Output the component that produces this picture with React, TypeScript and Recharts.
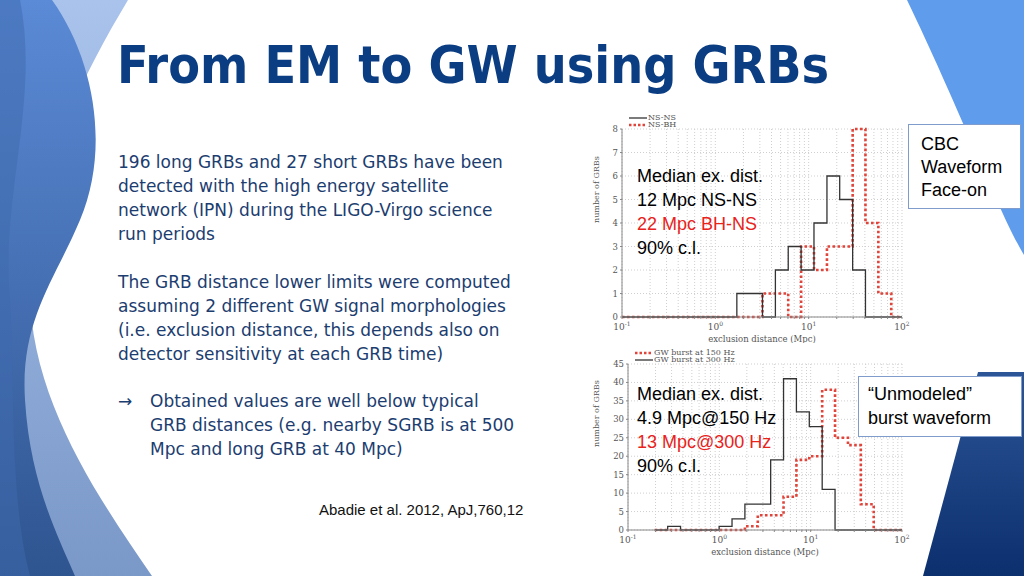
import React from "react"
import { CartesianGrid, Legend, Line, LineChart, XAxis, YAxis } from "recharts"

// CBC histogram (top): bin edges in Mpc, counts per bin
const cbcEdges = [1.7, 2.33, 3.2, 4.4, 6.04, 8.3, 11.4, 15.7, 21.5, 29.6, 40.6, 55.8, 76.7]
const nsnsCounts = [1, 1, 0, 2, 3, 2, 4, 6, 5, 2, 0, 0]
const nsbhCounts = [0, 0, 1, 1, 0, 3, 2, 3, 3, 8, 4, 1]

// burst histogram (bottom)
const burstEdges = [
  0.196, 0.272, 0.376, 0.52, 0.719, 0.995, 1.377, 1.905, 2.636, 3.648, 5.047, 6.982, 9.66, 13.37, 18.49, 25.59, 35.4,
  49.0, 67.8, 93.8,
]
const burst150Counts = [0, 0, 0, 0, 0, 0, 0, 1, 4, 4, 9, 19, 20, 38, 25, 23, 7, 0, 0]
const burst300Counts = [0, 1, 0, 0, 0, 1, 3, 7, 7, 19, 41, 32, 28, 11, 0, 0, 0, 0, 0]

const cbcYTicks = [0, 1, 2, 3, 4, 5, 6, 7, 8]
const burstYTicks = [0, 5, 10, 15, 20, 25, 30, 35, 40, 45]

const logTicks: number[] = []
for (const d of [0.1, 1, 10]) for (let m = 1; m < 10; m++) logTicks.push(+(m * d).toPrecision(3))
logTicks.push(100)

const RED = "#E0443A"
const BLACK = "#333"
const serif = "'DejaVu Serif', serif"
const bodyFont = "'DejaVu Sans', sans-serif"
const arial = "'Liberation Sans', Arial, sans-serif"

function buildRows(edges: number[], a: number[], b: number[], lead?: number) {
  const rows: { x: number; a: number; b: number }[] = []
  if (lead) rows.push({ x: lead, a: 0, b: 0 })
  a.forEach((v, i) => rows.push({ x: edges[i], a: v, b: b[i] }))
  rows.push({ x: edges[edges.length - 1], a: 0, b: 0 })
  if (edges[edges.length - 1] < 100) rows.push({ x: 100, a: 0, b: 0 })
  return rows
}

const LogTick = (props: any) => {
  const { x, y, payload } = props
  const lg = Math.log10(payload.value)
  const exp = Math.round(lg)
  if (Math.abs(lg - exp) > 1e-6) return <g />
  return (
    <text x={x} y={y + 9} textAnchor="middle" fontSize={9} fontFamily={serif} fill="#555">
      <tspan>10</tspan>
      <tspan dy={-4} fontSize={6}>
        {exp}
      </tspan>
    </text>
  )
}

const LegendBox = ({ items }: { items: { label: string; color: string; dash?: boolean }[] }) => (
  <div style={{ lineHeight: "7px" }}>
    {items.map((it) => (
      <div key={it.label} style={{ display: "flex", alignItems: "center", height: 7 }}>
        <svg width={20} height={6}>
          <line
            x1={1}
            x2={19}
            y1={3}
            y2={3}
            stroke={it.color}
            strokeWidth={it.dash ? 2.5 : 1.3}
            strokeDasharray={it.dash ? "2.5 2" : undefined}
          />
        </svg>
        <span style={{ fontFamily: serif, fontSize: 8, color: "#555" }}>{it.label}</span>
      </div>
    ))}
  </div>
)

function Histogram(props: {
  rows: any[]
  width: number
  height: number
  yWidth: number
  yTicks: number[]
  yMax: number
  aColor: string
  aDash: boolean
  bColor: string
  bDash: boolean
  legend: { label: string; color: string; dash?: boolean }[]
}) {
  const { rows, width, height, yWidth, yTicks, yMax } = props
  const style = (dash: boolean) => (dash ? { strokeWidth: 2.6, strokeDasharray: "2.6 2.4" } : { strokeWidth: 1.3 })
  return (
    <LineChart width={width} height={height} data={rows} margin={{ top: 7, right: 8, bottom: 0, left: 0 }}>
      <CartesianGrid stroke="#cfcfcf" strokeDasharray="1 2" />
      <XAxis
        dataKey="x"
        type="number"
        scale="log"
        domain={[0.1, 100]}
        ticks={logTicks}
        allowDataOverflow
        tick={<LogTick />}
        tickSize={2}
        interval={0}
        height={30}
        stroke="#888"
        label={{ value: "exclusion distance (Mpc)", position: "insideBottom", offset: 5, fontSize: 8.5, fontFamily: serif, fill: "#555" }}
      />
      <YAxis
        type="number"
        domain={[0, yMax]}
        ticks={yTicks}
        interval={0}
        width={yWidth}
        tickSize={2}
        stroke="#888"
        tick={{ fontSize: 8.5, fontFamily: serif, fill: "#555" }}
        label={{ value: "number of GRBs", angle: -90, position: "insideLeft", offset: 6, fontSize: 8, fontFamily: serif, fill: "#555" }}
      />
      <Legend
        verticalAlign="top"
        align="left"
        wrapperStyle={{ top: 6, left: yWidth + 6, width: "auto" }}
        content={() => <LegendBox items={props.legend} />}
      />
      <Line type="stepAfter" dataKey="b" stroke={props.bColor} {...style(props.bDash)} dot={false} isAnimationActive={false} />
      <Line type="stepAfter" dataKey="a" stroke={props.aColor} {...style(props.aDash)} dot={false} isAnimationActive={false} />
    </LineChart>
  )
}

const bodyLine: React.CSSProperties = { margin: 0, height: 24, lineHeight: "24px", whiteSpace: "nowrap" }

export default function App() {
  const cbcRows = buildRows(cbcEdges, nsnsCounts, nsbhCounts, 0.1)
  const burstRows = buildRows(burstEdges, burst300Counts, burst150Counts)
  return (
    <div style={{ position: "absolute", left: 0, top: 0, width: 1024, height: 576, background: "#fff", overflow: "hidden" }}>
      <svg width={1024} height={576} style={{ position: "absolute", left: 0, top: 0 }}>
        <defs>
          <linearGradient id="lightL" x1="0" y1="0" x2="0" y2="1">
            <stop offset="0" stopColor="#a9c3ec" />
            <stop offset="1" stopColor="#7a98c8" />
          </linearGradient>
          <linearGradient id="darkL" x1="0" y1="0" x2="0" y2="1">
            <stop offset="0" stopColor="#5b8ad6" />
            <stop offset="1" stopColor="#2f5590" />
          </linearGradient>
          <linearGradient id="darkR" x1="0" y1="0" x2="0" y2="1">
            <stop offset="0" stopColor="#2c5597" />
            <stop offset="1" stopColor="#0c2f6e" />
          </linearGradient>
        </defs>
        <path d="M0,0 H128 C 80,80 30,180 30,290 C 30,400 100,500 152,576 H0 Z" fill="url(#lightL)" />
        <path d="M0,0 H52 C 95,60 110,150 80,220 C 55,280 20,320 25,400 C 30,480 55,530 75,576 H0 Z" fill="url(#darkL)" />
        <path d="M0,0 H20 C 40,100 0,200 10,300 C 15,400 10,500 30,576 H0 Z" fill="#3d6aae" opacity={0.5} />
        <path d="M907,0 H1024 V255 C 1000,215 960,110 907,0 Z" fill="#5f9ceb" />
        <path d="M978,372 H1024 V576 H923 Z" fill="url(#darkR)" />
      </svg>

      <div
        style={{
          position: "absolute",
          left: 117,
          top: 35,
          fontFamily: "'DejaVu Sans Condensed', 'DejaVu Sans', sans-serif",
          fontWeight: 700,
          fontSize: 51.5,
          color: "#0b3d82",
          whiteSpace: "nowrap",
        }}
      >
        From EM to GW using GRBs
      </div>

      <div style={{ position: "absolute", left: 118, top: 150, fontFamily: bodyFont, fontSize: 17, color: "#1c3d70" }}>
        <p style={bodyLine}>196 long GRBs and 27 short GRBs have been</p>
        <p style={bodyLine}>detected with the high energy satellite</p>
        <p style={bodyLine}>network (IPN) during the LIGO-Virgo science</p>
        <p style={bodyLine}>run periods</p>
      </div>
      <div style={{ position: "absolute", left: 118, top: 270, fontFamily: bodyFont, fontSize: 17, color: "#1c3d70" }}>
        <p style={bodyLine}>The GRB distance lower limits were computed</p>
        <p style={bodyLine}>assuming 2 different GW signal morphologies</p>
        <p style={bodyLine}>(i.e. exclusion distance, this depends also on</p>
        <p style={bodyLine}>detector sensitivity at each GRB time)</p>
      </div>
      <div style={{ position: "absolute", left: 118, top: 389, fontFamily: bodyFont, fontSize: 17, color: "#1c3d70" }}>
        <p style={{ ...bodyLine, position: "absolute", left: 0 }}>→</p>
        <div style={{ marginLeft: 32 }}>
          <p style={bodyLine}>Obtained values are well below typical</p>
          <p style={bodyLine}>GRB distances (e.g. nearby SGRB is at 500</p>
          <p style={bodyLine}>Mpc and long GRB at 40 Mpc)</p>
        </div>
      </div>
      <div style={{ position: "absolute", left: 319, top: 501, fontFamily: arial, fontSize: 15, color: "#111", whiteSpace: "nowrap" }}>
        Abadie et al. 2012, ApJ,760,12
      </div>

      <div style={{ position: "absolute", left: 590, top: 108, background: "#fff" }}>
        <Histogram
          rows={cbcRows}
          width={320}
          height={239}
          yWidth={32}
          yTicks={cbcYTicks}
          yMax={8}
          aColor={BLACK}
          aDash={false}
          bColor={RED}
          bDash={true}
          legend={[
            { label: "NS-NS", color: BLACK },
            { label: "NS-BH", color: RED, dash: true },
          ]}
        />
      </div>
      <div style={{ position: "absolute", left: 590, top: 343, background: "#fff" }}>
        <Histogram
          rows={burstRows}
          width={320}
          height={217}
          yWidth={38}
          yTicks={burstYTicks}
          yMax={45}
          aColor={BLACK}
          aDash={false}
          bColor={RED}
          bDash={true}
          legend={[
            { label: "GW burst at 150 Hz", color: RED, dash: true },
            { label: "GW burst at 300 Hz", color: BLACK },
          ]}
        />
      </div>

      <div style={{ position: "absolute", left: 637, top: 164, fontFamily: arial, fontSize: 18, lineHeight: "24px" }}>
        <div>Median ex. dist.</div>
        <div>12 Mpc NS-NS</div>
        <div style={{ color: "#e8231c" }}>22 Mpc BH-NS</div>
        <div>90% c.l.</div>
      </div>
      <div style={{ position: "absolute", left: 637, top: 382, fontFamily: arial, fontSize: 18, lineHeight: "24px" }}>
        <div>Median ex. dist.</div>
        <div>4.9 Mpc@150 Hz</div>
        <div style={{ color: "#e8231c" }}>13 Mpc@300 Hz</div>
        <div>90% c.l.</div>
      </div>

      <div
        style={{
          position: "absolute",
          left: 908,
          top: 124,
          width: 113,
          height: 85,
          boxSizing: "border-box",
          border: "1px solid #7f9ccc",
          background: "#fff",
          padding: "8px 0 0 12px",
          fontFamily: arial,
          fontSize: 18,
          lineHeight: "23px",
        }}
      >
        CBC
        <br />
        Waveform
        <br />
        Face-on
      </div>
      <div
        style={{
          position: "absolute",
          left: 858,
          top: 376,
          width: 164,
          height: 61,
          boxSizing: "border-box",
          border: "1px solid #7f9ccc",
          background: "#fff",
          padding: "5px 0 0 9px",
          fontFamily: arial,
          fontSize: 18,
          lineHeight: "24px",
          whiteSpace: "nowrap",
        }}
      >
        “Unmodeled”
        <br />
        burst waveform
      </div>
    </div>
  )
}
